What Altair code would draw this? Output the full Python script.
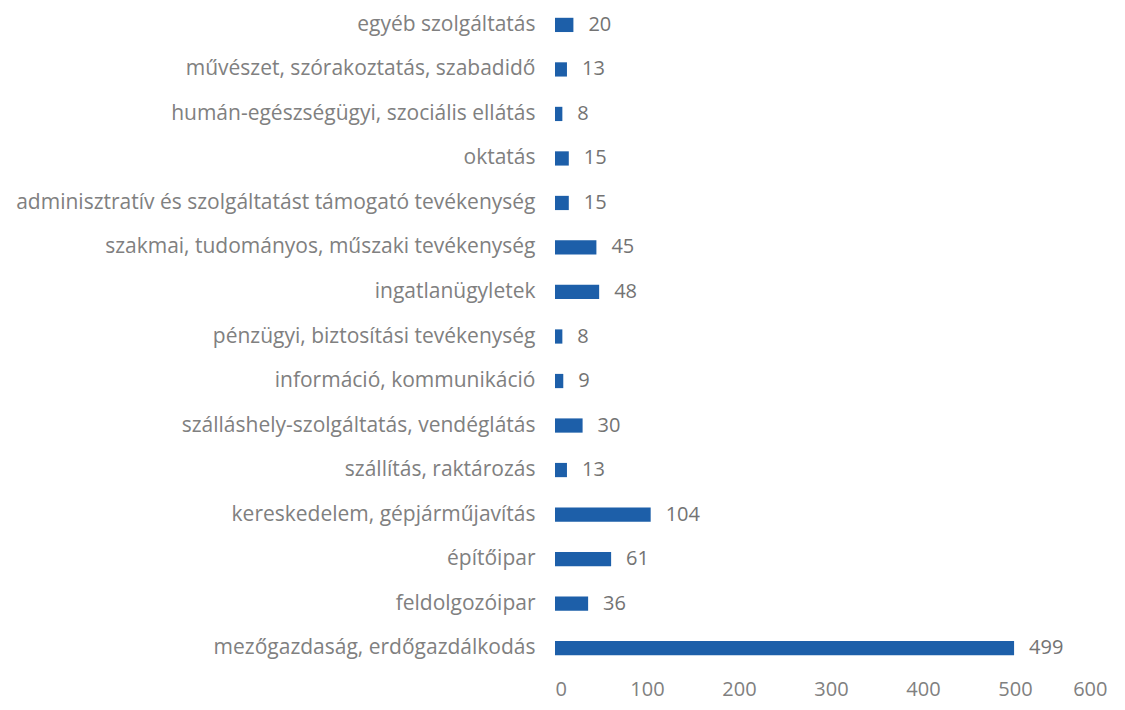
import altair as alt
import pandas as pd

categories = [
    "egyéb szolgáltatás",
    "művészet, szórakoztatás, szabadidő",
    "humán-egészségügyi, szociális ellátás",
    "oktatás",
    "adminisztratív és szolgáltatást támogató tevékenység",
    "szakmai, tudományos, műszaki tevékenység",
    "ingatlanügyletek",
    "pénzügyi, biztosítási tevékenység",
    "információ, kommunikáció",
    "szálláshely-szolgáltatás, vendéglátás",
    "szállítás, raktározás",
    "kereskedelem, gépjárműjavítás",
    "építőipar",
    "feldolgozóipar",
    "mezőgazdaság, erdőgazdálkodás",
]
values = [20, 13, 8, 15, 15, 45, 48, 8, 9, 30, 13, 104, 61, 36, 499]
x_ticks = [0, 100, 200, 300, 400, 500, 600]

df = pd.DataFrame({"cat": categories, "val": values})

FONT = "Open Sans"
GRAY = "#808080"

base = alt.Chart(df).encode(
    y=alt.Y(
        "cat:N",
        sort=categories,
        title=None,
        scale=alt.Scale(paddingInner=0.68, paddingOuter=0.22),
        axis=alt.Axis(
            labelFont=FONT,
            labelFontSize=21,
            labelColor=GRAY,
            labelLimit=700,
            labelPadding=20,
            ticks=False,
            domain=False,
            grid=False,
            minExtent=547,
            maxExtent=547,
        ),
    ),
    x=alt.X(
        "val:Q",
        title=None,
        scale=alt.Scale(domain=[0, 600], nice=False),
        axis=alt.Axis(
            values=x_ticks,
            labelFont=FONT,
            labelFontSize=20,
            labelColor=GRAY,
            labelPadding=14,
            ticks=False,
            domain=False,
            grid=False,
        ),
    ),
)

bars = base.mark_bar(color="#1d5fa9")
labels = base.mark_text(
    align="left", baseline="middle", dx=15, font=FONT, fontSize=20, color="#737373"
).encode(text="val:Q")

chart = (
    alt.layer(bars, labels)
    .properties(
        width=552,
        height=657,
        padding={"left": 0, "top": 0, "right": 0, "bottom": 4},
        view=alt.ViewBackground(stroke="transparent", strokeWidth=0),
    )
    .configure_view(stroke=None, strokeWidth=0)
    .configure_axis(grid=False, domain=False)
    .configure(background="white")
)
chart.save("out.html", embed_options={"renderer": "svg", "actions": False})
